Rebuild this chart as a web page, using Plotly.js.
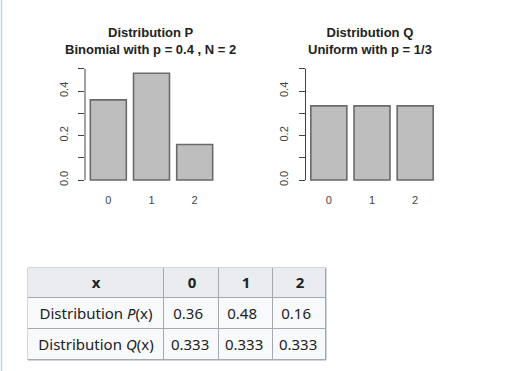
<!DOCTYPE html>
<html>
<head>
<meta charset="utf-8">
<script src="https://cdn.plot.ly/plotly-3.0.1.min.js"></script>
<style>html,body{margin:0;padding:0;background:#fff;}#chart{width:510px;height:371px;}</style>
</head>
<body>
<div id="chart"></div>
<script>
// ---- data ----
const categories = [0, 1, 2];
const tickLabels = ['0', '1', '2'];
const pValues = [0.36, 0.48, 0.16];
const qValues = [0.3333, 0.3333, 0.3333];
const yTickVals = [0, 0.2, 0.4];
const yTickText = ['0.0', '0.2', '0.4'];
const titleP = ['Distribution P', 'Binomial with p = 0.4 , N = 2'];
const titleQ = ['Distribution Q', 'Uniform with p = 1/3'];
const tableHeader = ['x', '0', '1', '2'];
const tableRowLabels = ['Distribution <i>P</i>(x)', 'Distribution <i>Q</i>(x)'];
const tableP = ['0.36', '0.48', '0.16'];
const tableQ = ['0.333', '0.333', '0.333'];

// ---- layout constants (pixels) ----
const W = 510, H = 371;
const px = v => v / W;
const py = v => 1 - v / H;
const colEdges = [0, 136, 191, 245, 298];
const rowEdges = [0, 30, 61, 92];
const NB = '\u00a0';

const barStyle = {
  type: 'bar',
  width: 1 / 1.2,
  marker: {color: '#bebebe', line: {color: '#6a6a6a', width: 1.6}},
  hoverinfo: 'skip',
  showlegend: false
};

// table grid built from the arrays
const headerRow = tableHeader.map(t => '<b>' + t + '</b>');
const pRow = [tableRowLabels[0]].concat(tableP.map(v => v + NB + NB));
const qRow = [tableRowLabels[1]].concat(tableQ.map(v => v + NB));
const tableText = [headerRow, pRow, qRow];
const tableFill = tableText.map((row, r) => row.map(() => (r === 0 ? 1 : 0)));

const traces = [
  Object.assign({}, barStyle, {x: categories, y: pValues, xaxis: 'x', yaxis: 'y'}),
  Object.assign({}, barStyle, {x: categories, y: qValues, xaxis: 'x2', yaxis: 'y2'}),
  {
    type: 'heatmap',
    x: colEdges, y: rowEdges,
    z: tableFill,
    text: tableText,
    texttemplate: '%{text}',
    textfont: {family: 'Noto Sans, DejaVu Sans, sans-serif', size: 15, color: '#202122'},
    zmin: 0, zmax: 1,
    colorscale: [[0, '#f8f9fa'], [1, '#eaecf0']],
    showscale: false,
    xgap: 1, ygap: 1,
    hoverinfo: 'skip',
    xaxis: 'x3', yaxis: 'y3'
  }
];

const xAx = dom => ({
  domain: dom,
  range: [-0.54, 2.54],
  tickvals: categories,
  ticktext: tickLabels,
  ticks: '',
  showline: false,
  showgrid: false,
  zeroline: false,
  ticklabelstandoff: 7,
  tickfont: {family: 'Liberation Sans, Arial, sans-serif', size: 11, color: '#444'},
  fixedrange: true
});
const yAx = anchor => ({
  domain: [py(184.5), py(64.3)],
  range: [-0.02, 0.52],
  anchor: anchor,
  tickvals: yTickVals,
  ticktext: yTickText,
  tickangle: -90,
  ticks: 'outside',
  ticklen: 6,
  tickcolor: '#444',
  minor: {tickvals: [0.1, 0.3, 0.5], ticks: 'outside', ticklen: 6, tickcolor: '#444'},
  showline: false,
  showgrid: false,
  zeroline: false,
  ticklabelstandoff: 6,
  tickfont: {family: 'Liberation Sans, Arial, sans-serif', size: 11, color: '#444'},
  fixedrange: true
});

const titleAnn = (lines, x) => ({
  text: lines.map(l => '<b>' + l + '</b>').join('<br>'),
  xref: 'paper', yref: 'paper',
  x: px(x), y: py(41),
  xanchor: 'center', yanchor: 'middle',
  showarrow: false,
  font: {family: 'Liberation Sans, Arial, sans-serif', size: 13, color: '#222'}
});

const layout = {
  width: W, height: H,
  margin: {l: 0, r: 0, t: 0, b: 0},
  paper_bgcolor: '#ffffff',
  plot_bgcolor: 'rgba(0,0,0,0)',
  showlegend: false,
  xaxis: Object.assign(xAx([px(85), px(218)]), {anchor: 'y'}),
  yaxis: yAx('x'),
  xaxis2: Object.assign(xAx([px(305.5), px(438.5)]), {anchor: 'y2'}),
  yaxis2: yAx('x2'),
  xaxis3: {domain: [px(28), px(326)], range: [colEdges[0], colEdges[colEdges.length - 1]], visible: false, anchor: 'y3', fixedrange: true},
  yaxis3: {domain: [py(360), py(268)], range: [rowEdges[rowEdges.length - 1], rowEdges[0]], visible: false, anchor: 'x3', fixedrange: true},
  annotations: [titleAnn(titleP, 150), titleAnn(titleQ, 369.5)],
  shapes: [
    {type: 'line', xref: 'x domain', yref: 'y', x0: 0, x1: 0, y0: 0, y1: 0.5, line: {color: '#444', width: 1}},
    {type: 'line', xref: 'x2 domain', yref: 'y2', x0: 0, x1: 0, y0: 0, y1: 0.5, line: {color: '#444', width: 1}},
    {type: 'rect', xref: 'x3 domain', yref: 'y3 domain', x0: 0, x1: 1, y0: 0, y1: 1, layer: 'below',
     fillcolor: '#a2a9b1', line: {color: '#a2a9b1', width: 1}},
    {type: 'line', xref: 'paper', yref: 'paper', x0: px(1.5), x1: px(1.5), y0: 0, y1: 1, line: {color: '#b8d8f2', width: 1.5}}
  ]
};

Plotly.newPlot('chart', traces, layout, {displayModeBar: false, staticPlot: true});
</script>
</body>
</html>
